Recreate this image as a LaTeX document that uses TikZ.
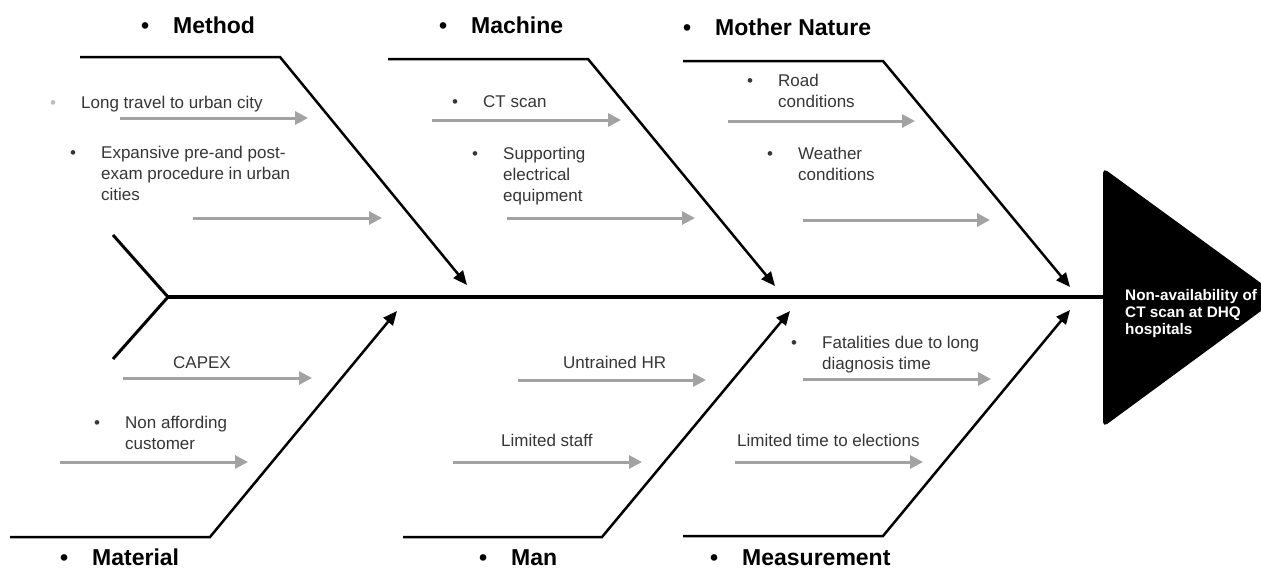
\documentclass[tikz,border=0pt]{standalone}
\usepackage{fontspec}
\setmainfont{Liberation Sans}
\usetikzlibrary{arrows.meta}
\definecolor{txt}{HTML}{363636}
\definecolor{arr}{HTML}{A2A2A2}
\definecolor{bulg}{HTML}{BDBDBD}
\newcommand{\bl}{\makebox[31pt][l]{\textbullet}}
\newcommand{\cb}{\makebox[32pt][l]{\textbullet}}
\begin{document}
\begin{tikzpicture}[x=1pt,y=-1pt,
  bone/.style={line width=2.5pt, line join=miter, -{Triangle[length=14pt,width=12pt]}},
  sub/.style={draw=arr, line width=3pt, -{Triangle[length=13pt,width=13pt,fill=arr]}},
  cat/.style={font=\fontsize{23}{27}\selectfont\bfseries, anchor=base west, inner sep=0pt},
  cause/.style={font=\fontsize{17}{21}\selectfont, text=txt, anchor=base west, inner sep=0pt},
  effect/.style={font=\fontsize{15.3}{17}\selectfont\bfseries, text=white, anchor=base west, inner sep=0pt}]
\clip (0,0) rectangle (1261,570);
\fill[white] (0,0) rectangle (1261,570);

% head
\fill[rounded corners=5pt] (1103,168) -- (1280,297) -- (1103,427) -- cycle;
\node[effect] (head) at (1125,300) {\begin{tabular}[t]{@{}l@{}}Non-availability of\\CT scan at DHQ\\hospitals\end{tabular}};

% spine and tail
\coordinate (tailT) at (113,235);
\coordinate (tailJ) at (168,297);
\coordinate (tailB) at (113,359);
\coordinate (spineE) at (1103,297);
\draw[line width=3pt, line join=miter] (tailT) -- (tailJ) -- (tailB);
\draw[line width=4.5pt] (tailJ) -- (spineE);

% upper bones
\coordinate (m0) at (80,57);   \coordinate (m1) at (280,57);  \coordinate (m2) at (467,285);
\coordinate (c0) at (388,59);  \coordinate (c1) at (588,59);  \coordinate (c2) at (775,286);
\coordinate (n0) at (683,61);  \coordinate (n1) at (883,61);  \coordinate (n2) at (1070,287);
\draw[bone] (m0) -- (m1) -- (m2);
\draw[bone] (c0) -- (c1) -- (c2);
\draw[bone] (n0) -- (n1) -- (n2);

% lower bones
\coordinate (a0) at (10,537);  \coordinate (a1) at (210,537); \coordinate (a2) at (397,311);
\coordinate (h0) at (403,537); \coordinate (h1) at (602,537); \coordinate (h2) at (790,311);
\coordinate (s0) at (683,536); \coordinate (s1) at (883,536); \coordinate (s2) at (1070,310);
\draw[bone] (a0) -- (a1) -- (a2);
\draw[bone] (h0) -- (h1) -- (h2);
\draw[bone] (s0) -- (s1) -- (s2);

% category labels
\node[cat] (lMethod) at (141,33) {\cb Method};
\node[cat] (lMachine) at (439,33) {\cb Machine};
\node[cat] (lNature) at (683,35) {\cb Mother Nature};
\node[cat] (lMaterial) at (60,565) {\cb Material};
\node[cat] (lMan) at (479,565) {\cb Man};
\node[cat] (lMeas) at (710,565) {\cb Measurement};

% causes: Method
\node[cause] (t1) at (50,108) {\makebox[31pt][l]{\textcolor{bulg}{\textbullet}}Long travel to urban city};
\node[cause] (t2) at (70,158) {\begin{tabular}[t]{@{}l@{}l@{}}\bl&Expansive pre-and post-\\&exam procedure in urban\\&cities\end{tabular}};
\coordinate (g1a) at (120,118); \coordinate (g1b) at (308,118);
\coordinate (g2a) at (193,218); \coordinate (g2b) at (382,218);
\draw[sub] (g1a) -- (g1b);
\draw[sub] (g2a) -- (g2b);

% causes: Machine
\node[cause] (t3) at (452,107) {\bl CT scan};
\node[cause] (t4) at (472,159) {\begin{tabular}[t]{@{}l@{}l@{}}\bl&Supporting\\&electrical\\&equipment\end{tabular}};
\coordinate (g3a) at (432,120); \coordinate (g3b) at (621,120);
\coordinate (g4a) at (507,218); \coordinate (g4b) at (695,218);
\draw[sub] (g3a) -- (g3b);
\draw[sub] (g4a) -- (g4b);

% causes: Mother Nature
\node[cause] (t5) at (747,86) {\begin{tabular}[t]{@{}l@{}l@{}}\bl&Road\\&conditions\end{tabular}};
\node[cause] (t6) at (767,159) {\begin{tabular}[t]{@{}l@{}l@{}}\bl&Weather\\&conditions\end{tabular}};
\coordinate (g5a) at (728,121); \coordinate (g5b) at (915,121);
\coordinate (g6a) at (803,220); \coordinate (g6b) at (990,220);
\draw[sub] (g5a) -- (g5b);
\draw[sub] (g6a) -- (g6b);

% causes: Material
\node[cause] (t7) at (173,368) {CAPEX};
\node[cause] (t8) at (94,428) {\begin{tabular}[t]{@{}l@{}l@{}}\bl&Non affording\\&customer\end{tabular}};
\coordinate (g7a) at (123,378); \coordinate (g7b) at (312,378);
\coordinate (g8a) at (60,462);  \coordinate (g8b) at (248,462);
\draw[sub] (g7a) -- (g7b);
\draw[sub] (g8a) -- (g8b);

% causes: Man
\node[cause] (t9) at (563,368) {Untrained HR};
\node[cause] (t10) at (501,446) {Limited staff};
\coordinate (g9a) at (518,380);  \coordinate (g9b) at (706,380);
\coordinate (g10a) at (453,462); \coordinate (g10b) at (642,462);
\draw[sub] (g9a) -- (g9b);
\draw[sub] (g10a) -- (g10b);

% causes: Measurement
\node[cause] (t11) at (791,348) {\begin{tabular}[t]{@{}l@{}l@{}}\bl&Fatalities due to long\\&diagnosis time\end{tabular}};
\node[cause] (t12) at (737,446) {Limited time to elections};
\coordinate (g11a) at (803,379); \coordinate (g11b) at (991,379);
\coordinate (g12a) at (735,462); \coordinate (g12b) at (923,462);
\draw[sub] (g11a) -- (g11b);
\draw[sub] (g12a) -- (g12b);
\end{tikzpicture}
\end{document}
